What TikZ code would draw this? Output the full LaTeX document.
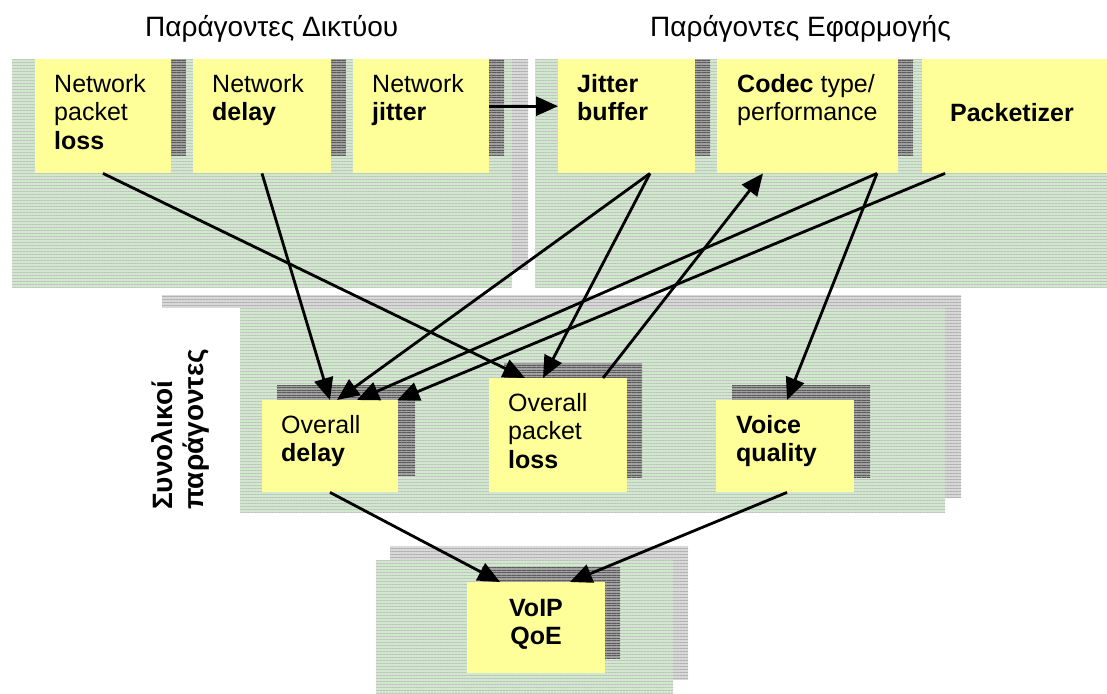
\documentclass[tikz,border=0pt]{standalone}
\usepackage{fontspec}
\setmainfont{Liberation Sans}
\usetikzlibrary{arrows.meta,patterns.meta}

\definecolor{notefill}{RGB}{255,255,153}
\definecolor{panelbase}{RGB}{208,232,204}
\definecolor{panelline}{RGB}{192,195,192}
\definecolor{hazebase}{RGB}{216,216,216}
\definecolor{hazeline}{RGB}{176,176,176}
\definecolor{shadebase}{RGB}{160,160,160}
\definecolor{shadeline}{RGB}{90,90,90}

\tikzset{
  panel/.style={fill=panelbase,
    postaction={pattern={Lines[angle=0,distance=3pt,line width=1pt]}, pattern color=panelline}},
  panelshadow/.style={fill=hazebase,
    postaction={pattern={Lines[angle=0,distance=3pt,line width=1pt]}, pattern color=hazeline}},
  noteshadow/.style={fill=shadebase,
    postaction={pattern={Lines[angle=0,distance=2.5pt,line width=1pt]}, pattern color=shadeline}},
  notebox/.style={fill=notefill, draw=none, inner sep=0pt, anchor=north west},
  notetext/.style={font=\fontsize{25}{28.5}\selectfont, align=left, inner sep=0pt, anchor=north west},
  headline/.style={font=\fontsize{28}{32}\selectfont, inner sep=0pt, anchor=base west},
  arr/.style={line width=2.8pt, -{Triangle[length=22pt,width=19pt]}},
}

\begin{document}
\begin{tikzpicture}[x=1pt,y=-1pt]
  \useasboundingbox (0,0) rectangle (1107,693);
  \fill[white] (0,0) rectangle (1107,693);

  % group headings
  \node[headline] (hnet) at (145,37) {Παράγοντες Δικτύου};
  \node[headline] (happ) at (650,37) {Παράγοντες Εφαρμογής};

  % network factors panel
  \path[panelshadow] (28,59) rectangle (528,270);
  \path[panel] (12,59) rectangle (512,287);
  % application factors panel
  \path[panel] (535,59) rectangle (1107,287);

  % overall factors panel
  \path[panelshadow] (162,295) rectangle (961,498);
  \fill[white] (130,308) rectangle (240,520);
  \path[panel] (240,308) rectangle (945,512);

  % QoE panel
  \path[panelshadow] (390,546) rectangle (688,680);
  \path[panel] (376,560) rectangle (673,693);

  % shadows of the notes
  \path[noteshadow] (50,59) rectangle (186,156);
  \path[noteshadow] (208,59) rectangle (346,156);
  \path[noteshadow] (368,59) rectangle (504,156);
  \path[noteshadow] (573,59) rectangle (710,156);
  \path[noteshadow] (732,59) rectangle (913,156);
  \path[noteshadow] (937,59) rectangle (1121,156);
  \path[noteshadow] (277,385) rectangle (415,476);
  \path[noteshadow] (504,363) rectangle (642,477);
  \path[noteshadow] (732,385) rectangle (870,477);
  \path[noteshadow] (482,567) rectangle (620,658);

  % notes
  \node[notebox, minimum width=136pt, minimum height=114pt] (nloss) at (35,59) {};
  \node[notebox, minimum width=138pt, minimum height=114pt] (ndelay) at (193,59) {};
  \node[notebox, minimum width=136pt, minimum height=114pt] (njit) at (353,59) {};
  \node[notebox, minimum width=137pt, minimum height=114pt] (jbuf) at (558,59) {};
  \node[notebox, minimum width=181pt, minimum height=114pt] (codec) at (717,59) {};
  \node[notebox, minimum width=185pt, minimum height=114pt] (pktz) at (922,59) {};
  \node[notebox, minimum width=136pt, minimum height=92pt] (odelay) at (262,400) {};
  \node[notebox, minimum width=138pt, minimum height=114pt] (oloss) at (489,378) {};
  \node[notebox, minimum width=138pt, minimum height=92pt] (vq) at (716,400) {};
  \node[notebox, minimum width=138pt, minimum height=91pt] (voip) at (467,582) {};

  % note texts
  \node[notetext] (tnloss) at (54,74) {Network\\packet\\\textbf{loss}};
  \node[notetext] (tndelay) at (212,74) {Network\\\textbf{delay}};
  \node[notetext] (tnjit) at (372,74) {Network\\\textbf{jitter}};
  \node[notetext] (tjbuf) at (577,74) {\textbf{Jitter}\\\textbf{buffer}};
  \node[notetext] (tcodec) at (737,74) {\textbf{Codec} type/\\performance};
  \node[notetext, anchor=base] (tpktz) at (1012,121) {\textbf{Packetizer}};
  \node[notetext] (todelay) at (281,415) {Overall\\\textbf{delay}};
  \node[notetext] (toloss) at (508,393) {Overall\\packet\\\textbf{loss}};
  \node[notetext] (tvq) at (736,415) {\textbf{Voice}\\\textbf{quality}};
  \node[notetext, align=center, anchor=north] (tvoip) at (536,599) {\textbf{VoIP}\\\textbf{QoE}};

  % side label of the overall factors
  \node[font=\bfseries\fontsize{28}{31}\selectfont, align=left, inner sep=0pt,
        rotate=90, anchor=north west] (side) at (151,510) {Συνολικοί\\παράγοντες};

  % dependencies
  \draw[arr] ([yshift=10pt]njit.east) -- ([yshift=10pt]jbuf.west);
  \draw[arr] ([xshift=68pt]nloss.south west) -- ([xshift=36pt]oloss.north west);
  \draw[arr] ([xshift=69pt]ndelay.south west) -- ([xshift=68pt]odelay.north west);
  \draw[arr] ([xshift=92pt]jbuf.south west) -- ([xshift=75pt]odelay.north west);
  \draw[arr] ([xshift=92pt]jbuf.south west) -- ([xshift=54pt]oloss.north west);
  \draw[arr] ([xshift=160pt]codec.south west) -- ([xshift=95pt]odelay.north west);
  \draw[arr] ([xshift=160pt]codec.south west) -- ([xshift=71pt]vq.north west);
  \draw[arr] ([xshift=23pt]pktz.south west) -- ([xshift=-1pt]odelay.north east);
  \draw[arr] ([xshift=114pt]oloss.north west) -- ([xshift=46pt]codec.south west);
  \draw[arr] ([xshift=68pt]odelay.south west) -- ([xshift=33pt]voip.north west);
  \draw[arr] ([xshift=71pt]vq.south west) -- ([xshift=103pt]voip.north west);
\end{tikzpicture}
\end{document}
